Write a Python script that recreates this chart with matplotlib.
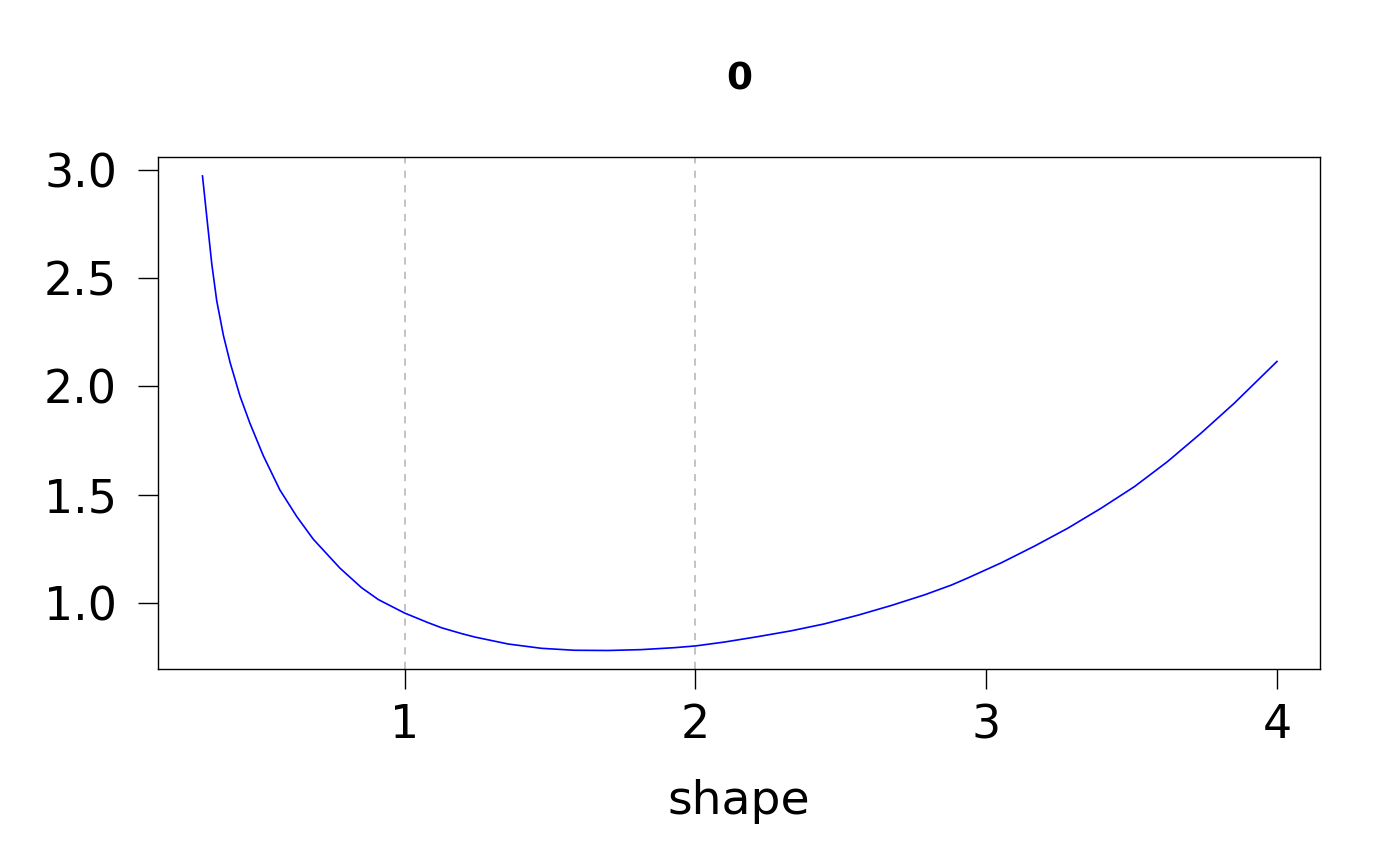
import matplotlib
matplotlib.use("Agg")
import matplotlib.pyplot as plt

# valores (shape vs. valor da curva)
shape = [0.305, 0.320, 0.337, 0.354, 0.377, 0.400, 0.434, 0.468, 0.514, 0.571,
         0.629, 0.686, 0.778, 0.852, 0.910, 1.000, 1.080, 1.127, 1.196, 1.242,
         1.356, 1.471, 1.585, 1.700, 1.814, 1.928, 2.000, 2.100, 2.215, 2.330,
         2.444, 2.559, 2.674, 2.788, 2.880, 2.937, 3.052, 3.166, 3.281, 3.395,
         3.510, 3.624, 3.739, 3.853, 4.000]
value = [2.972, 2.780, 2.565, 2.395, 2.235, 2.110, 1.955, 1.830, 1.680, 1.522,
         1.399, 1.294, 1.160, 1.070, 1.015, 0.953, 0.909, 0.885, 0.858, 0.842,
         0.810, 0.790, 0.781, 0.780, 0.784, 0.793, 0.801, 0.819, 0.844, 0.871,
         0.903, 0.943, 0.988, 1.037, 1.082, 1.115, 1.185, 1.262, 1.345, 1.437,
         1.537, 1.653, 1.784, 1.922, 2.115]
vlines = [1, 2]
xticks = [1, 2, 3, 4]
yticks = [1.0, 1.5, 2.0, 2.5, 3.0]
title = "0"
xlabel = "shape"

plt.rcParams["font.family"] = ["DejaVu Sans"]

fig = plt.figure(figsize=(14, 8.66), dpi=100)
ax = fig.add_axes([158/1400, 1-669/866, (1320-158)/1400, (669-157)/866])

# linhas verticais tracejadas
for v in vlines:
    ax.axvline(v, color="#bebebe", lw=1.3, ls=(0, (4, 4)), zorder=1)

ax.plot(shape, value, color="blue", lw=1.2, zorder=2)

ax.set_xlim(0.152, 4.148)
ax.set_ylim(0.6945, 3.0595)
ax.set_xticks(xticks)
ax.set_xticklabels([str(t) for t in xticks])
ax.set_yticks(yticks)
ax.set_yticklabels(["%.1f" % t for t in yticks])
ax.tick_params(axis="both", labelsize=33, length=14.5, width=1, color="black")
ax.tick_params(axis="x", pad=10)
ax.tick_params(axis="y", pad=15)
for s in ax.spines.values():
    s.set_linewidth(1)
    s.set_color("black")

fig.text((158+1320)/2/1400, 1-79/866, title, ha="center", va="center",
         fontsize=27, fontweight="bold")
fig.text((158+1320)/2/1400, 1-802/866, xlabel, ha="center", va="center",
         fontsize=34)

fig.savefig("out.png", dpi=100)
